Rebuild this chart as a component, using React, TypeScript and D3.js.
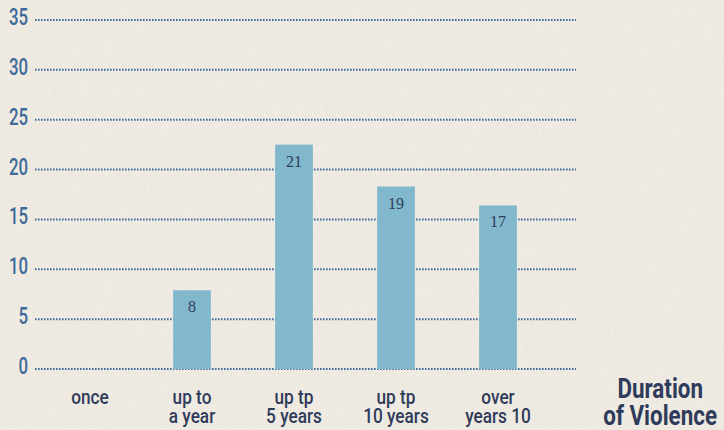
import { useEffect, useRef } from "react"
import * as d3 from "d3"

// categories on the x axis (two lines each)
const categories = ["once", "up to a year", "up tp 5 years", "up tp 10 years", "over years 10"]
const categoryLines = [["once"], ["up to", "a year"], ["up tp", "5 years"], ["up tp", "10 years"], ["over", "years 10"]]
// bar heights as drawn in the picture
const barHeights = [0, 7.9, 22.5, 18.3, 16.4]
// numbers printed inside the bars
const barLabels = ["", "8", "21", "19", "17"]
const yTicks = [0, 5, 10, 15, 20, 25, 30, 35]

const sans = "Roboto, 'Liberation Sans', sans-serif"

export default function App() {
  const svgRef = useRef(null)

  useEffect(() => {
    const width = 724
    const height = 430

    const svg = d3.select(svgRef.current).attr("width", width).attr("height", height)
    svg.selectAll("*").remove()

    const defs = svg.append("defs")
    const filter = defs.append("filter").attr("id", "paper").attr("x", 0).attr("y", 0).attr("width", "100%").attr("height", "100%")
    filter.append("feTurbulence").attr("type", "fractalNoise").attr("baseFrequency", "0.9 0.05").attr("numOctaves", 2).attr("seed", 3)
    filter
      .append("feColorMatrix")
      .attr("type", "matrix")
      .attr("values", "0 0 0 0 0.55  0 0 0 0 0.5  0 0 0 0 0.42  0 0 0 0.12 0")

    svg.append("rect").attr("width", width).attr("height", height).attr("fill", "#f1ede5")
    svg.append("rect").attr("width", width).attr("height", height).attr("filter", "url(#paper)")

    const y = d3.scaleLinear().domain([0, 35]).range([369, 20])
    const x = d3.scaleBand().domain(categories).range([39, 549]).paddingInner(0.63).paddingOuter(0.315)

    // dotted grid lines
    svg
      .append("g")
      .selectAll("line")
      .data(yTicks)
      .join("line")
      .attr("x1", 35)
      .attr("x2", 576)
      .attr("y1", (d) => y(d))
      .attr("y2", (d) => y(d))
      .attr("stroke", "#3f6d9e")
      .attr("stroke-width", 2)
      .attr("stroke-dasharray", "1.6 1.4")

    // y labels, squeezed horizontally to look condensed
    svg
      .append("g")
      .selectAll("g")
      .data(yTicks)
      .join("g")
      .attr("transform", (d) => `translate(28,${y(d) + 5}) scale(0.7,1)`)
      .append("text")
      .attr("text-anchor", "end")
      .attr("font-family", sans)
      .attr("font-weight", 500)
      .attr("font-size", 24)
      .attr("fill", "#3d6a98")
      .text((d) => d)

    svg
      .append("g")
      .selectAll("rect")
      .data(categories)
      .join("rect")
      .attr("x", (d) => x(d))
      .attr("width", x.bandwidth())
      .attr("y", (d, i) => y(barHeights[i]))
      .attr("height", (d, i) => y(0) - y(barHeights[i]))
      .attr("fill", "#82b8cb")

    svg
      .append("g")
      .selectAll("text")
      .data(categories)
      .join("text")
      .attr("x", (d) => x(d) + x.bandwidth() / 2)
      .attr("y", (d, i) => y(barHeights[i]) + 22)
      .attr("text-anchor", "middle")
      .attr("font-family", "'Liberation Serif', serif")
      .attr("font-size", 16)
      .attr("fill", "#2e3a5c")
      .text((d, i) => barLabels[i])

    const xl = svg
      .append("g")
      .selectAll("g")
      .data(categories)
      .join("g")
      .attr("transform", (d) => `translate(${x(d) + x.bandwidth() / 2},404) scale(0.82,1)`)
      .append("text")
      .attr("text-anchor", "middle")
      .attr("font-family", sans)
      .attr("font-weight", 500)
      .attr("font-size", 21)
      .attr("fill", "#2f3b5b")
    xl.selectAll("tspan")
      .data((d, i) => categoryLines[i])
      .join("tspan")
      .attr("x", 0)
      .attr("dy", (d, i) => (i === 0 ? 0 : 18.5))
      .text((d) => d)

    const title = svg
      .append("g")
      .attr("transform", "translate(717,0) scale(0.8,1)")
      .append("text")
      .attr("text-anchor", "end")
      .attr("font-family", sans)
      .attr("font-weight", "bold")
      .attr("font-size", 28)
      .attr("fill", "#2f3b5b")
    title.append("tspan").attr("x", -17.5).attr("y", 398).text("Duration")
    title.append("tspan").attr("x", 0).attr("y", 425).text("of Violence")
  }, [])

  return (
    <div style={{ position: "fixed", left: 0, top: 0 }}>
      <svg ref={svgRef} style={{ display: "block" }}></svg>
    </div>
  )
}
